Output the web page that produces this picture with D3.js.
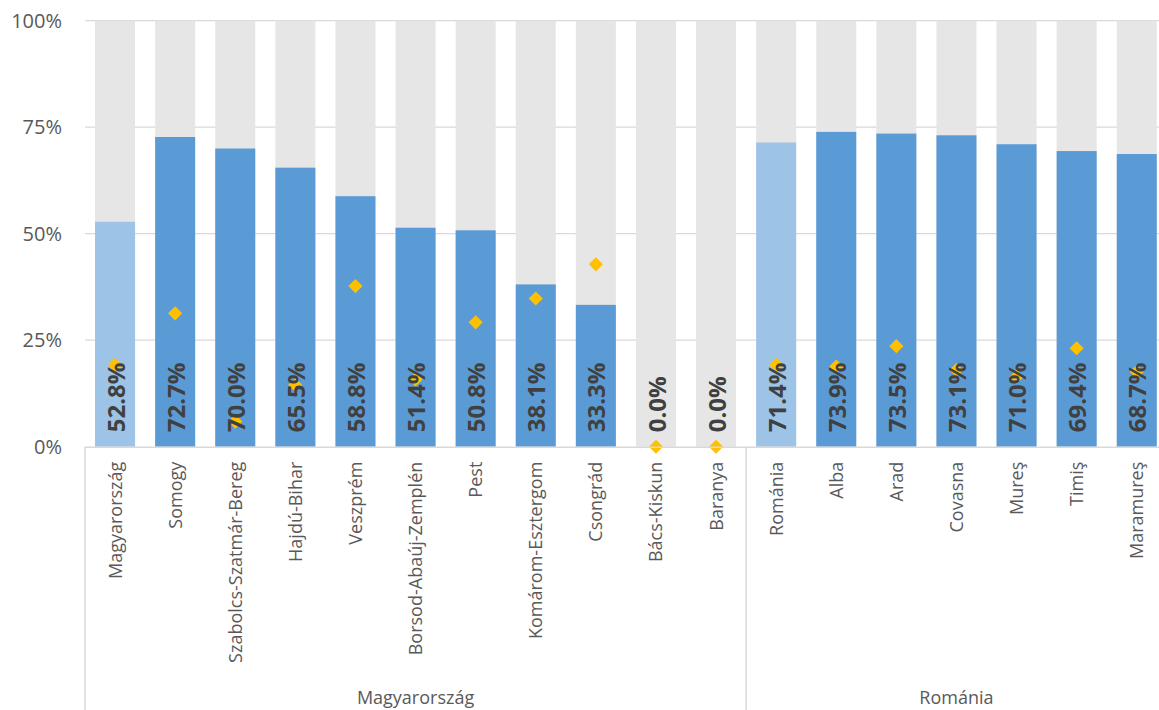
<!DOCTYPE html>
<html>
<head>
<meta charset="utf-8">
<script src="https://cdn.jsdelivr.net/npm/d3@7"></script>
<style>
  html, body { margin: 0; padding: 0; background: #fff; }
  svg { display: block; }
</style>
</head>
<body>
<svg id="chart" width="1159" height="710"></svg>
<script>
const categories = ["Magyarország","Somogy","Szabolcs-Szatmár-Bereg","Hajdú-Bihar","Veszprém","Borsod-Abaúj-Zemplén","Pest","Komárom-Esztergom","Csongrád","Bács-Kiskun","Baranya","Románia","Alba","Arad","Covasna","Mureş","Timiş","Maramureş"];
const groups = ["Magyarország","Magyarország","Magyarország","Magyarország","Magyarország","Magyarország","Magyarország","Magyarország","Magyarország","Magyarország","Magyarország","Románia","Románia","Románia","Románia","Románia","Románia","Románia"];
const barValues = [52.8, 72.7, 70.0, 65.5, 58.8, 51.4, 50.8, 38.1, 33.3, 0.0, 0.0, 71.4, 73.9, 73.5, 73.1, 71.0, 69.4, 68.7];
const totalValues = [100,100,100,100,100,100,100,100,100,100,100,100,100,100,100,100,100,100];
const diamondValues = [19.2, 31.3, 5.9, 14.5, 37.7, 15.8, 29.2, 34.8, 42.8, 0.0, 0.0, 19.2, 18.8, 23.6, 18.0, 16.4, 23.1, 17.6];
const isTotal = [true,false,false,false,false,false,false,false,false,false,false,true,false,false,false,false,false,false];
const yTicks = [0, 25, 50, 75, 100];

(function () {
const svg = d3.select("#chart");
const mLeft = 85, mTop = 20.7, mBottom = 446.7, step = 60.1;
const x = d3.scaleBand().domain(categories).range([mLeft, mLeft + step * categories.length]).paddingInner(0.334).paddingOuter(0.167);
const y = d3.scaleLinear().domain([0, 100]).range([mBottom, mTop]);
const idx = d3.range(categories.length);

// gridlines
svg.append("g").selectAll("line").data(yTicks.filter(d => d > 0)).join("line")
  .attr("x1", mLeft).attr("x2", 1159).attr("y1", d => y(d)).attr("y2", d => y(d))
  .attr("stroke", "#d9d9d9").attr("stroke-width", 1.3);

// y labels
const yAxis = d3.axisLeft(y).tickValues(yTicks).tickFormat(d => d + "%").tickSize(0).tickPadding(23);
const yg = svg.append("g").attr("transform", `translate(${mLeft},0)`).call(yAxis);
yg.select(".domain").remove();
yg.selectAll("text").attr("font-family", "Open Sans").attr("font-size", 20).attr("fill", "#595959");

// background bars
svg.append("g").selectAll("rect").data(idx).join("rect")
  .attr("x", i => x(categories[i])).attr("width", x.bandwidth())
  .attr("y", i => y(totalValues[i])).attr("height", i => y(0) - y(totalValues[i]))
  .attr("fill", "#e7e6e6");

// value bars
svg.append("g").selectAll("rect").data(idx).join("rect")
  .attr("x", i => x(categories[i])).attr("width", x.bandwidth())
  .attr("y", i => y(barValues[i])).attr("height", i => y(0) - y(barValues[i]))
  .attr("fill", i => isTotal[i] ? "#9dc3e6" : "#5b9bd5");

// diamonds
const sym = d3.symbol().type(d3.symbolSquare).size(100);
svg.append("g").selectAll("path").data(idx).join("path")
  .attr("d", sym)
  .attr("transform", i => `translate(${x(categories[i]) + x.bandwidth()/2},${y(diamondValues[i])}) rotate(45)`)
  .attr("fill", "#ffc000");

// data labels
svg.append("g").selectAll("text").data(idx).join("text")
  .attr("transform", i => `translate(${x(categories[i]) + x.bandwidth()/2 + 1},${y(0) - 14.5}) rotate(-90)`)
  .attr("dy", "0.36em")
  .attr("text-anchor", "start")
  .attr("font-family", "Open Sans").attr("font-weight", "bold").attr("font-size", 24)
  .attr("fill", "#404040")
  .text(i => barValues[i].toFixed(1) + "%");

// x axis baseline
svg.append("line").attr("x1", mLeft).attr("x2", 1159).attr("y1", mBottom + 0.5).attr("y2", mBottom + 0.5)
  .attr("stroke", "#d9d9d9").attr("stroke-width", 1.5);

// category labels
svg.append("g").selectAll("text").data(idx).join("text")
  .attr("transform", i => `translate(${x(categories[i]) + x.bandwidth()/2},${mBottom + 15}) rotate(-90)`)
  .attr("dy", "0.36em")
  .attr("text-anchor", "end")
  .attr("font-family", "Open Sans").attr("font-size", 18).attr("fill", "#595959")
  .text(i => categories[i]);

// group separators and labels
const groupNames = Array.from(new Set(groups));
const groupInfo = groupNames.map(g => {
  const ids = idx.filter(i => groups[i] === g);
  const start = x(categories[ids[0]]) - x.step() * x.paddingInner() / 2;
  const end = x(categories[ids[ids.length - 1]]) + x.bandwidth() + x.step() * x.paddingInner() / 2;
  return {name: g, start, end};
});
svg.append("g").selectAll("line").data(groupInfo).join("line")
  .attr("x1", d => d.start).attr("x2", d => d.start).attr("y1", mBottom).attr("y2", 710)
  .attr("stroke", "#d9d9d9").attr("stroke-width", 1.5);
svg.append("g").selectAll("text").data(groupInfo).join("text")
  .attr("x", d => (d.start + d.end) / 2).attr("y", 704)
  .attr("text-anchor", "middle")
  .attr("font-family", "Open Sans").attr("font-size", 18).attr("fill", "#595959")
  .text(d => d.name);
})();
</script>
</body>
</html>
